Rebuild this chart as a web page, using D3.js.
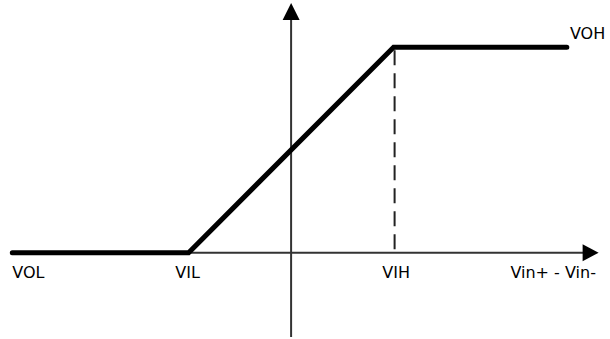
<!DOCTYPE html>
<html>
<head>
<meta charset="utf-8">
<script src="https://cdn.jsdelivr.net/npm/d3@7"></script>
<style>
  html, body { margin: 0; padding: 0; background: #fff; }
  svg { display: block; }
  text { font-family: "DejaVu Sans", sans-serif; font-size: 16px; fill: #000; }
</style>
</head>
<body>
<svg id="chart" width="610" height="339"></svg>
<script>
// transfer curve, in units of the drawing (VIL=-1, VIH=1, VOL=0, VOH=2)
const curveX = [-2.72, -1, 1, 2.69]
const curveY = [0, 0, 2, 2]
const VIL = -1, VIH = 1, VOL = 0, VOH = 2

const labelNames = ["VOL", "VIL", "VIH", "Vin+ - Vin-"]
const labelX     = [-2.72, -1.13, 0.89, 2.14]
const xAxisLimits = [-1, 3.0]
const yAxisLimits = [-0.82, 2.43]

const svg = d3.select("#chart")

const x = d3.scaleLinear()
    .domain([-2.84, 3.0])
    .range([0, 598.6])

const y = d3.scaleLinear()
    .domain([-0.82, 2.43])
    .range([337, 3])

const axisColor = "#333"

// horizontal axis with arrow
svg.append("line")
   .attr("x1", x(xAxisLimits[0]))
   .attr("x2", x(xAxisLimits[1]) - 14)
   .attr("y1", y(0))
   .attr("y2", y(0))
   .attr("stroke", axisColor)
   .attr("stroke-width", 2)

svg.append("path")
   .attr("d", `M${x(xAxisLimits[1])},${y(0)} l-16,-8.5 l0,17 z`)
   .attr("fill", "#000")

// vertical axis with arrow
svg.append("line")
   .attr("x1", x(0))
   .attr("x2", x(0))
   .attr("y1", y(yAxisLimits[0]))
   .attr("y2", y(yAxisLimits[1]) + 14)
   .attr("stroke", axisColor)
   .attr("stroke-width", 2)

svg.append("path")
   .attr("d", `M${x(0)},${y(yAxisLimits[1])} l-8.5,17 l17,0 z`)
   .attr("fill", "#000")

// dashed line at VIH
svg.append("line")
   .attr("x1", x(VIH) + 1)
   .attr("x2", x(VIH) + 1)
   .attr("y1", y(VOH) + 3)
   .attr("y2", y(VOL))
   .attr("stroke", "#222")
   .attr("stroke-width", 2)
   .attr("stroke-dasharray", "15,8")

// transfer curve
const pts = curveX.map((d, i) => ({ x: d, y: curveY[i] }))
const lineGen = d3.line()
    .x(d => x(d.x))
    .y(d => y(d.y))

svg.append("path")
   .datum(pts)
   .attr("fill", "none")
   .attr("stroke", "#000")
   .attr("stroke-width", 5)
   .attr("stroke-linecap", "round")
   .attr("stroke-linejoin", "miter")
   .attr("d", lineGen)

// labels under the axis
svg.selectAll("text.xl")
   .data(labelNames)
   .enter().append("text")
     .attr("class", "xl")
     .attr("x", (d, i) => x(labelX[i]))
     .attr("y", y(0) + 25)
     .text(d => d)

svg.append("text")
   .attr("x", x(2.72))
   .attr("y", y(VOH) - 8)
   .text("VOH")
</script>
</body>
</html>
